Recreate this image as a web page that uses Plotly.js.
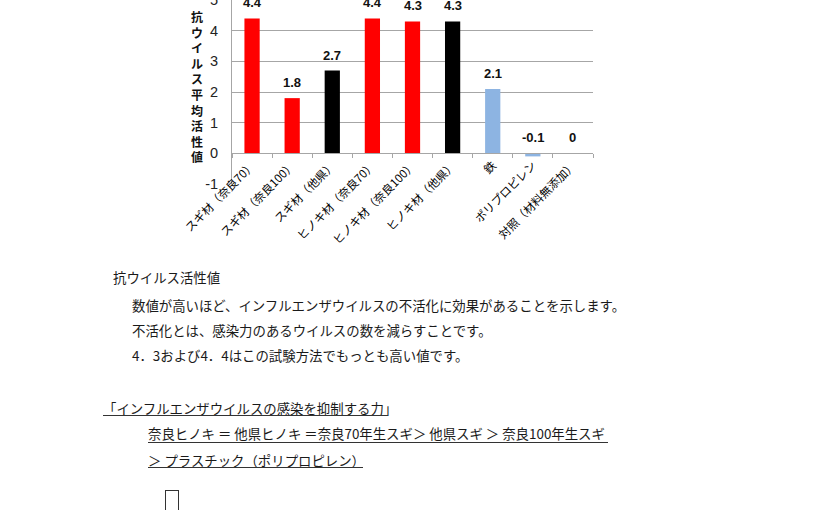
<!DOCTYPE html>
<html>
<head>
<meta charset="utf-8">
<script src="https://cdn.plot.ly/plotly-3.0.1.min.js"></script>
<style>
	body { margin: 0; background: #fff; width: 825px; height: 510px; overflow: hidden; position: relative; }
	#chart { position: absolute; left: 0; top: -8px; width: 825px; height: 258px; }
	.txt { position: absolute; font-family: "Noto Sans CJK JP", sans-serif; color: #1a1a1a; font-size: 13.4px; line-height: 16px; white-space: nowrap; }
	.uline { position: absolute; height: 0; border-top: 1.3px solid #333; }
</style>
</head>
<body>
<div id="chart"></div>

<div class="txt" style="left:113px; top:269px;">抗ウイルス活性値</div>
<div class="txt" style="left:132px; top:297px;">数値が高いほど、インフルエンザウイルスの不活化に効果があることを示します。</div>
<div class="txt" style="left:132px; top:322px;">不活化とは、感染力のあるウイルスの数を減らすことです。</div>
<div class="txt" style="left:132px; top:347px;">4．3および4．4はこの試験方法でもっとも高い値です。</div>

<div class="txt" style="left:103px; top:400px;">「インフルエンザウイルスの感染を抑制する力」</div>
<div class="uline" style="left:103px; top:415px; width:285px;"></div>
<div class="txt" style="left:148px; top:425px;">奈良ヒノキ ＝ 他県ヒノキ ＝奈良70年生スギ＞ 他県スギ ＞ 奈良100年生スギ</div>
<div class="uline" style="left:148px; top:442px; width:460px;"></div>
<div class="txt" style="left:148px; top:452px;">＞ プラスチック（ポリプロピレン）</div>
<div class="uline" style="left:148px; top:467px; width:215px;"></div>

<div style="position:absolute; left:165px; top:490px; width:12px; height:24px; border:1px solid #333;"></div>

<script>
// --- DATA ---
const categories = [
	'スギ材（奈良70）', 'スギ材（奈良100）', 'スギ材（他県）',
	'ヒノキ材（奈良70）', 'ヒノキ材（奈良100）', 'ヒノキ材（他県）',
	'鉄', 'ポリプロピレン', '対照（材料無添加）'
];
const values = [4.4, 1.8, 2.7, 4.4, 4.3, 4.3, 2.1, -0.1, 0];
const valueLabels = ['4.4', '1.8', '2.7', '4.4', '4.3', '4.3', '2.1', '-0.1', '0'];
const barColors = ['#ff0000', '#ff0000', '#000000', '#ff0000', '#ff0000', '#000000', '#8db4e2', '#8db4e2', '#8db4e2'];
const yTicks = [-1, 0, 1, 2, 3, 4, 5];
const yTickText = ['-1', '0', '1', '2', '3', '4', '5'];
const yTitle = '抗ウイルス平均活性値';

const gridGray = '#a6a6a6';

// value labels above each bar (or above zero for negatives)
const valueAnn = categories.map((c, i) => ({
	x: c,
	y: Math.max(values[i], 0),
	xref: 'x', yref: 'y',
	text: '<b>' + valueLabels[i] + '</b>',
	showarrow: false,
	yanchor: 'bottom',
	yshift: 6,
	font: { family: 'Liberation Sans, Arial, sans-serif', size: 13, color: '#111' }
}));

// vertical stacked axis title
const titleAnn = {
	xref: 'paper', yref: 'paper',
	x: -0.097, y: 0.53,
	xanchor: 'center', yanchor: 'middle',
	text: '<b>' + yTitle.split('').join('<br>') + '</b>',
	showarrow: false,
	font: { family: 'Noto Sans CJK JP, sans-serif', size: 12, color: '#111' }
};

Plotly.newPlot('chart', [{
	type: 'bar',
	x: categories,
	y: values,
	marker: { color: barColors },
	hoverinfo: 'none'
}], {
	width: 825,
	height: 258,
	margin: { t: 8, l: 232, r: 232, b: 66 },
	paper_bgcolor: '#fff',
	plot_bgcolor: '#fff',
	showlegend: false,
	bargap: 0.62,
	xaxis: {
		type: 'category',
		anchor: 'free',
		position: 1 / 6,
		showgrid: false,
		showline: true,
		linecolor: gridGray,
		linewidth: 1,
		ticks: 'outside',
		tickson: 'boundaries',
		ticklen: 4,
		tickcolor: gridGray,
		tickangle: -45,
		automargin: false,
		tickfont: { family: 'Noto Sans CJK JP, sans-serif', size: 11.5, color: '#000' }
	},
	yaxis: {
		range: [-1, 5],
		tickvals: yTicks,
		ticktext: yTickText,
		showgrid: true,
		gridcolor: gridGray,
		zeroline: false,
		showline: true,
		linecolor: gridGray,
		ticks: 'outside',
		ticklen: 10,
		tickcolor: 'rgba(0,0,0,0)',
		automargin: false,
		tickfont: { family: 'Liberation Sans, Arial, sans-serif', size: 14.5, color: '#222' }
	},
	annotations: valueAnn.concat([titleAnn])
}, { displayModeBar: false, staticPlot: true });
</script>
</body>
</html>
